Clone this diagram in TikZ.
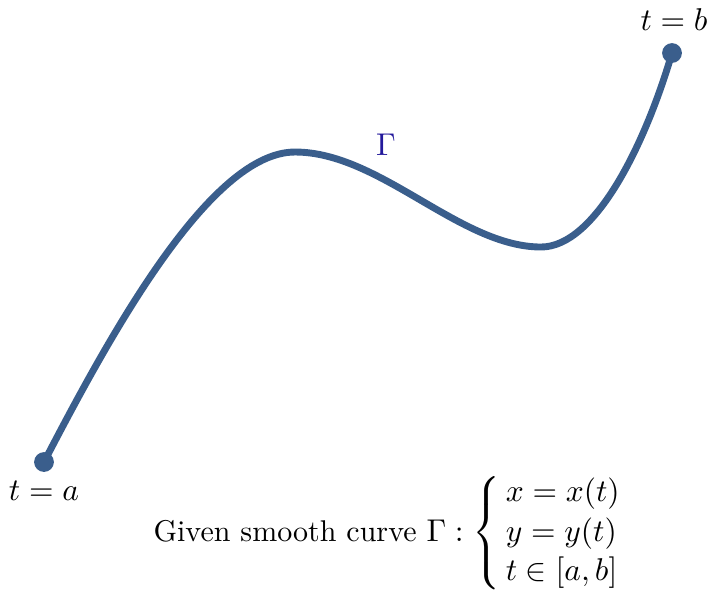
\documentclass[tikz,border=0pt]{standalone}
\usepackage{amsmath}
\usepackage{graphicx}
\definecolor{curvecol}{RGB}{58,94,140}
\definecolor{gammacol}{RGB}{35,25,155}
\newcommand{\mathbig}[1]{\scalebox{1.05}{#1}}
\begin{document}
\begin{tikzpicture}[x=0.3333pt,y=-0.3333pt,
  curveline/.style={draw=curvecol,line width=2.3pt,line cap=round},
  enddot/.style={circle,fill=curvecol,inner sep=0pt,minimum size=6.6pt},
  lbl/.style={inner sep=0pt}]
\useasboundingbox (0,0) rectangle (711,592);
\coordinate (A) at (44,462);
\coordinate (M) at (295,152);
\coordinate (N) at (541,247);
\coordinate (B) at (672,53);
\draw[curveline] (A) .. controls (110,335) and (210,152) .. (M)
  .. controls (380,152) and (460,247) .. (N)
  .. controls (595,247) and (645,145) .. (B);
\node[enddot] (pa) at (A) {};
\node[enddot] (pb) at (B) {};
\node[lbl,anchor=base] (la) at (44,500) {\mathbig{$t=a$}};
\node[lbl,anchor=base] (lb) at (674,30) {\mathbig{$t=b$}};
\node[lbl,text=gammacol] (lg) at (386,145) {\mathbig{$\Gamma$}};
\node[lbl,anchor=base west] (given) at (153,541)
  {Given smooth curve \mathbig{$\Gamma:\renewcommand{\arraystretch}{1.05}\left\{\begin{array}{@{\,}l}
    x=x(t)\\ y=y(t)\\ t\in[a,b]\end{array}\right.$}};
\end{tikzpicture}
\end{document}
